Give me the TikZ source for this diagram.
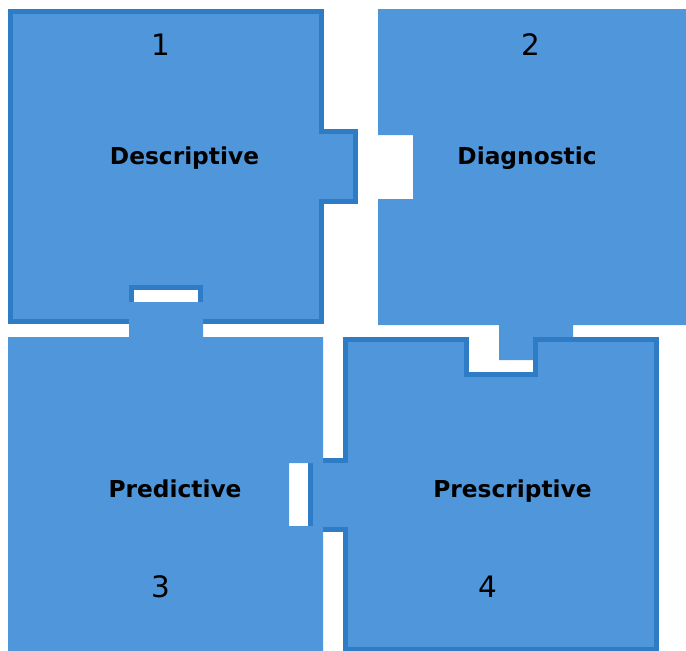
\documentclass[tikz,border=0pt]{standalone}
\usepackage{fontspec}
\setmainfont{DejaVu Sans}
\usepackage{tikz}
\definecolor{pieceblue}{RGB}{80,150,218}
\definecolor{rimblue}{RGB}{46,124,198}

\begin{document}
\begin{tikzpicture}[x=1pt, y=-1pt,
    piece/.style={fill=pieceblue},
    rim/.style={fill=pieceblue, draw=rimblue, line width=5pt, line join=miter},
    label/.style={font=\fontsize{23.3}{28}\selectfont\bfseries, anchor=base},
    num/.style={font=\fontsize{29.5}{34}\selectfont, anchor=base}]
  \useasboundingbox (0,0) rectangle (686,651);
  % piece 1, tab to the right, slot at the bottom
  \draw[rim] (10.5,11.5) -- (321.5,11.5) -- (321.5,131.5) -- (355.5,131.5)
    -- (355.5,201.5) -- (321.5,201.5) -- (321.5,321.5) -- (200.5,321.5)
    -- (200.5,287.5) -- (131.5,287.5) -- (131.5,321.5) -- (10.5,321.5) -- cycle;
  % piece 2, slot on the left, tab down
  \fill[piece] (378,9) -- (686,9) -- (686,325) -- (573,325) -- (573,360)
    -- (499,360) -- (499,325) -- (378,325) -- (378,199) -- (413,199)
    -- (413,135) -- (378,135) -- cycle;
  % piece 4, slot on top, tab to the left
  \draw[rim] (345,339.5) -- (466,339.5) -- (466,374) -- (535,374)
    -- (535,339.5) -- (656,339.5) -- (656,649) -- (345,649) -- (345,529)
    -- (310.5,529) -- (310.5,460) -- (345,460) -- cycle;
  % piece 3, tab up, slot on the right
  \fill[piece] (8,337) -- (129,337) -- (129,302) -- (203,302) -- (203,337)
    -- (323,337) -- (323,463) -- (289,463) -- (289,526) -- (323,526)
    -- (323,651) -- (8,651) -- cycle;
  % labels
  \node[num] (num1) at (161,55) {1};
  \node[label] (desc) at (184.5,164) {Descriptive};
  \node[num] (num2) at (531,55) {2};
  \node[label] (diag) at (527,164) {Diagnostic};
  \node[label] (pred) at (175,497) {Predictive};
  \node[num] (num3) at (161,597.5) {3};
  \node[label] (presc) at (512.5,497) {Prescriptive};
  \node[num] (num4) at (488,597) {4};
\end{tikzpicture}
\end{document}
